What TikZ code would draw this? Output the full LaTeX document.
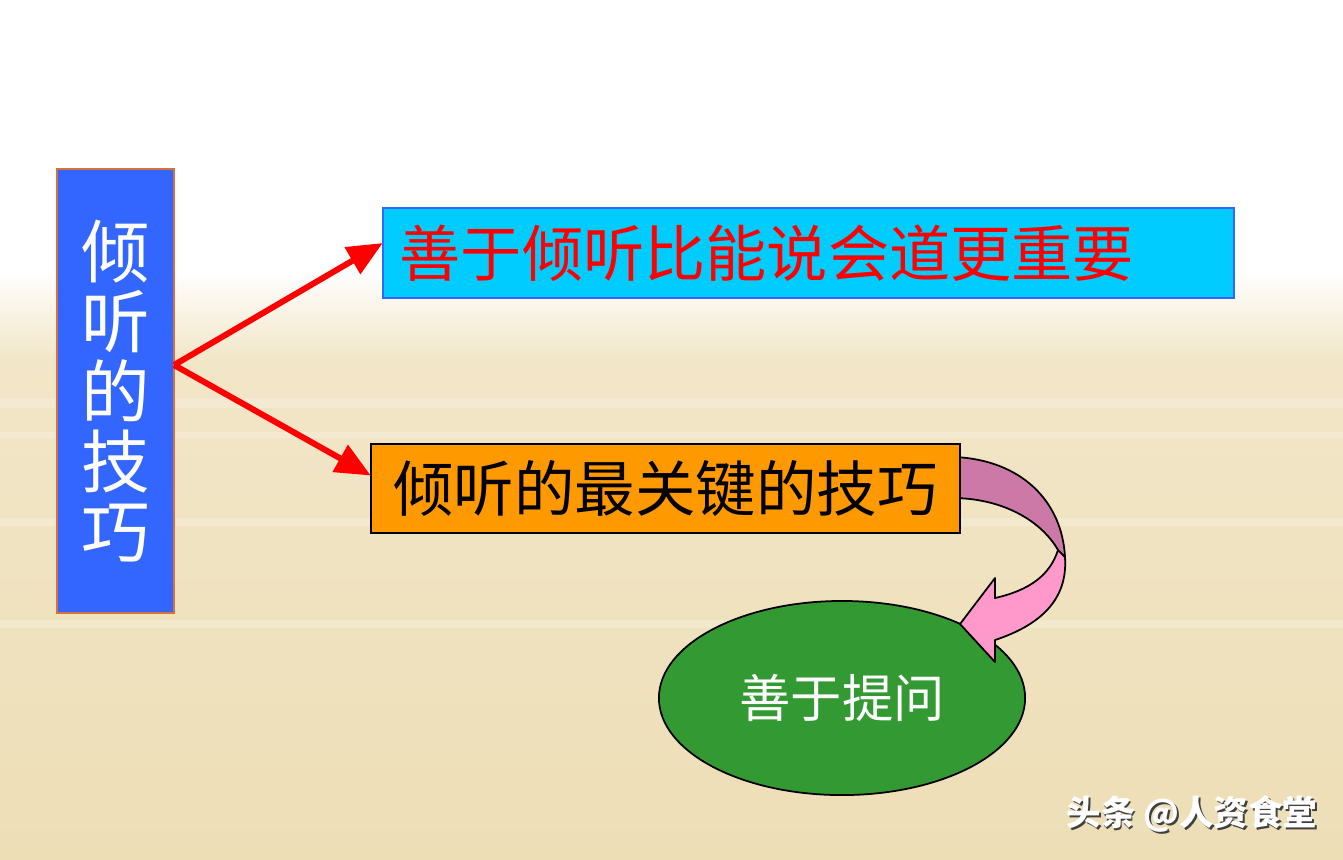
\documentclass[tikz,border=0pt]{standalone}
\usepackage{fontspec}
\usetikzlibrary{arrows.meta,shapes.geometric,positioning,calc}
\newfontfamily\cjk{Noto Sans CJK SC}
\definecolor{bgbeige}{HTML}{F2E6C8}
\definecolor{bgbeigeb}{HTML}{EDDEB6}
\definecolor{leftblue}{HTML}{3366FF}
\definecolor{leftborder}{HTML}{D8703A}
\definecolor{topcyan}{HTML}{00CCFF}
\definecolor{topborder}{HTML}{3366FF}
\definecolor{midorange}{HTML}{FF9900}
\definecolor{ellgreen}{HTML}{339933}
\definecolor{mauve}{HTML}{CC79A8}
\definecolor{pinkband}{HTML}{FF99CC}
\tikzset{
  boxbase/.style={rectangle, inner sep=0pt, outer sep=0pt},
  redarrow/.style={draw=red, line width=1.7pt, -{Triangle[length=10pt,width=8.5pt]}},
  ribbon/.style={draw=black, line width=0.5pt, line join=round},
  streak/.style={fill=white, opacity=0.22},
}
\begin{document}
\begin{tikzpicture}[x=0.01cm,y=-0.01cm]
\useasboundingbox (0,0) rectangle (1343,859);
% background
\fill[white] (0,0) rectangle (1343,859);
\shade[top color=white, bottom color=bgbeige] (0,270) rectangle (1343,360);
\shade[top color=bgbeige, bottom color=bgbeigeb] (0,360) rectangle (1343,859);
\fill[streak] (0,398) rectangle (1343,408);
\fill[streak] (0,432) rectangle (1343,438);
\fill[streak] (0,518) rectangle (1343,526);
\fill[streak] (0,620) rectangle (1343,628);

% left box
\node[boxbase, fill=leftblue, draw=leftborder, line width=0.5pt,
      minimum width=1.17cm, minimum height=4.44cm,
      font=\cjk\fontsize{19.5pt}{19.9pt}\selectfont, text=white, align=center]
  (lb) at (115.5,391) {倾\\听\\的\\技\\巧};

% ellipse
\node[ellipse, fill=ellgreen, draw=black, line width=0.5pt, inner sep=0pt,
      minimum width=3.66cm, minimum height=1.94cm,
      font=\cjk\fontsize{14.6pt}{16pt}\selectfont, text=white]
  (el) at (842,698) {善于提问};

% curved ribbon arrow
\filldraw[ribbon, fill=mauve] (955,457) .. controls (1020,460) and (1062,500) .. (1065,557)
   -- (1058,550) .. controls (1042,522) and (1005,499) .. (955,498) -- cycle;
\filldraw[ribbon, fill=pinkband] (1065,557) .. controls (1068,600) and (1040,625) .. (995,640)
   -- (995,662) -- (960,624) -- (995,578) -- (995,598)
   .. controls (1030,590) and (1050,575) .. (1058,550) -- cycle;

% top box
\node[boxbase, fill=topcyan, draw=topborder, line width=0.6pt,
      minimum width=8.51cm, minimum height=0.9cm,
      text width=8.17cm, align=left,
      font=\cjk\fontsize{17.4pt}{18pt}\selectfont, text=red]
  (tb) at (808.5,253) {善于倾听比能说会道更重要};

% middle box
\node[boxbase, fill=midorange, draw=black, line width=0.5pt,
      minimum width=5.89cm, minimum height=0.89cm,
      font=\cjk\fontsize{17.2pt}{18pt}\selectfont, text=black]
  (mb) at (665.5,488.5) {倾听的最关键的技巧};

% red arrows
\coordinate (s) at ($(lb.east)+(0,-26)$);
\draw[redarrow] (s) -- ($(tb.west)+(0,-10)$);
\draw[redarrow] (s) -- ($(mb.west)+(0,-13)$);

% watermark
\node[font=\cjk\bfseries\fontsize{9.8pt}{11pt}\selectfont, anchor=east, inner sep=0pt]
  (wm) at (1318,815) {\rlap{\raisebox{-0.5pt}{\hspace{0.5pt}\color{black!75}头条 @人资食堂}}\color{white}头条 @人资食堂};
\end{tikzpicture}
\end{document}
